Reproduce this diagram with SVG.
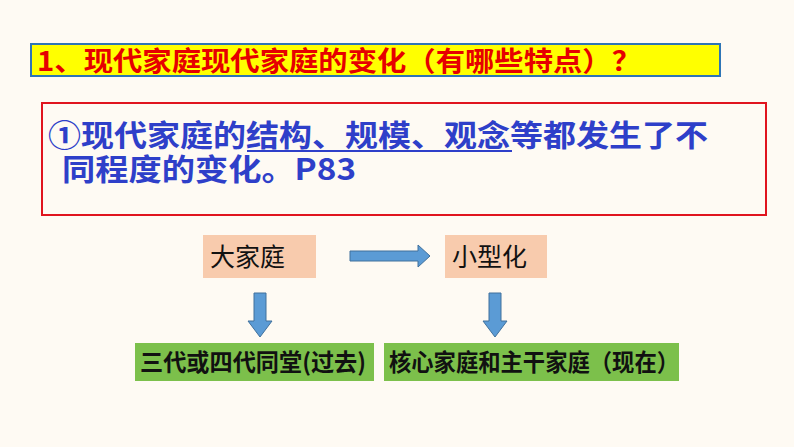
<svg xmlns="http://www.w3.org/2000/svg" width="794" height="447" viewBox="0 0 794 447">
<style>
.cjk{font-family:"Noto Sans CJK SC","Liberation Sans",sans-serif}
.arr{fill:#5b9bd5;stroke:#41719c;stroke-width:1}
.g{fill:#7cc04b}
.p{fill:#f8cbad}
</style>
<rect width="794" height="447" fill="#fefaf3"/>
<g id="title">
<rect x="31" y="44" width="689" height="32" fill="#ffff00" stroke="#2e75b6" stroke-width="2"/>
<text x="37" y="71" class="cjk" font-size="27" font-weight="bold" fill="#e60000" textLength="604" lengthAdjust="spacingAndGlyphs">1、现代家庭现代家庭的变化（有哪些特点）？</text>
</g>
<g id="point">
<rect x="42" y="103" width="724" height="112" fill="none" stroke="#e0141e" stroke-width="2"/>
<text x="48" y="146" class="cjk" font-size="30" font-weight="bold" fill="#2e3fc9" textLength="660" lengthAdjust="spacingAndGlyphs">①现代家庭的结构、规模、观念等都发生了不</text>
<line x1="247" y1="151" x2="512" y2="151" stroke="#2e3fc9" stroke-width="2"/>
<text x="62" y="180" class="cjk" font-size="30" font-weight="bold" fill="#2e3fc9" textLength="294" lengthAdjust="spacingAndGlyphs">同程度的变化。P83</text>
</g>
<g id="big"><rect class="p" x="203" y="235" width="113" height="43"/><text x="210" y="266" class="cjk" font-size="25" fill="#111">大家庭</text></g>
<g id="small"><rect class="p" x="445" y="235" width="102" height="43"/><text x="452" y="266" class="cjk" font-size="25" fill="#111">小型化</text></g>
<g id="past"><rect class="g" x="135" y="343" width="239" height="38"/><text x="140" y="371" class="cjk" font-size="24" font-weight="bold" fill="#111" textLength="226" lengthAdjust="spacingAndGlyphs">三代或四代同堂(过去)</text></g>
<g id="now"><rect class="g" x="384" y="343" width="295" height="38"/><text x="389" y="371" class="cjk" font-size="24" font-weight="bold" fill="#111" textLength="290" lengthAdjust="spacingAndGlyphs">核心家庭和主干家庭（现在）</text></g>
<g id="connectors">
<path class="arr" d="M350 251 H418 V245 L430 256 L418 267 V261 H350 Z"/>
<path class="arr" d="M254 293 H266 V321 H272 L260 337 L248 321 H254 Z"/>
<path class="arr" d="M489 293 H501 V321 H507 L495 337 L483 321 H489 Z"/>
</g>
</svg>
